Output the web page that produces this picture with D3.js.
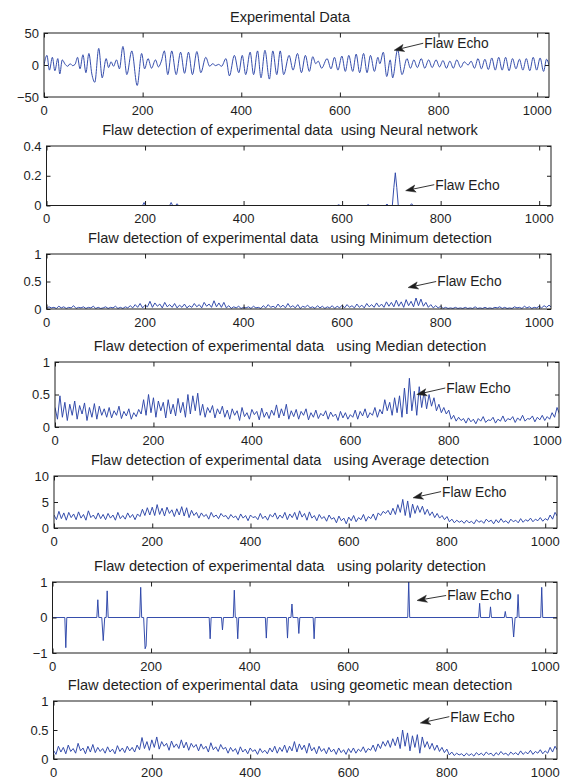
<!DOCTYPE html>
<html><head><meta charset="utf-8">
<script src="https://cdn.jsdelivr.net/npm/d3@7"></script>
<style>
body{margin:0;background:#fff}
svg text{font-family:"Liberation Sans",Arial,sans-serif;fill:#1e1e1e;font-size:13px;white-space:pre}
svg text.title{font-size:14.6px}
svg text.ann{font-size:13.8px}
</style></head><body>
<svg id="c" width="568" height="783" xml:space="preserve"></svg>
<script>
// ---------- data ----------
const xTicks = [0, 200, 400, 600, 800, 1000];
const titles = [
  "Experimental Data",
  "Flaw detection of experimental data  using Neural network",
  "Flaw detection of experimental data   using Minimum detection",
  "Flaw detection of experimental data   using Median detection",
  "Flaw detection of experimental data   using Average detection",
  "Flaw detection of experimental data   using polarity detection",
  "Flaw detection of experimental data   using geometic mean detection"
];
const annText = "Flaw Echo";

const expX = [0,6,11,17,22,28,32,37,43,48,53,58,63,68,73,79,85,91,97,103,111,118,126,131,136,141,147,153,160,168,178,189,198,204,211,218,226,232,238,244,251,259,268,277,285,293,301,310,318,328,336,342,348,354,360,369,376,386,395,402,409,418,425,433,440,448,457,464,472,479,486,497,505,514,522,530,538,545,551,556,563,574,582,589,596,604,611,618,626,633,640,648,655,662,670,677,681,688,695,702,707,717,726,736,743,750,757,765,772,780,787,795,802,809,816,823,830,837,845,852,860,866,873,880,887,894,901,908,915,922,929,936,943,950,957,964,971,978,985,992,999,1006,1013,1019,1024];
const expY = [0,15,-8,12,-9,10,-14,8,1,-2,2,-1,1,12,-6,16,-12,18,-14,-27,26,-20,10,-4,5,-2,8,-6,29,-15,22,-32,18,-6,10,-5,8,-3,6,22,-15,22,-15,20,-13,20,-15,21,-12,12,-2,2,-1,1,-2,10,-17,15,-12,15,-15,20,-15,22,-20,23,-22,22,-15,22,-15,15,-8,18,-12,15,-10,13,2,6,-5,10,-6,12,-8,14,-10,15,-10,17,-12,18,-12,15,-10,12,2,20,-18,8,-20,24,-15,10,-5,8,-4,10,-5,8,-4,8,-3,7,-5,6,-5,8,-4,5,0,6,-5,10,-6,9,-7,11,-8,12,-8,12,-9,10,-6,9,-8,10,-9,12,-8,11,-10,9,0];

// Neural network output
const nnX = [0,195,198,201,204,250,253,256,262,265,268,590,593,596,650,653,656,688,691,694,702,705,708,711,714,738,741,744,1024];
const nnY = [0,0,0.02,0,0,0,0.02,0,0,0.012,0,0,0.005,0,0,0.006,0,0,0.01,0,0,0.12,0.22,0.12,0,0,0.012,0,0];

// dense detector outputs, one value every 5 samples
const minVals = [0.01,0.04,0.02,0.03,0.01,0.05,0.02,0.04,0.01,0.03,0.02,0.06,0.01,0.03,0.02,0.04,0.01,0.03,0.02,0.05,0.01,
0.03,0.01,0.02,0.04,0.01,0.03,0.02,0.05,0.01,0.03,0.01,0.04,0.02,0.06,
0.02,0.08,0.03,0.10,0.02,0.07,
0.04,0.14,0.03,0.11,0.05,0.09,0.02,0.12,0.04,0.08,0.03,0.10,
0.02,0.07,0.03,0.09,0.02,0.06,
0.03,0.10,0.04,0.08,0.02,0.12,0.05,0.09,0.03,0.15,0.04,0.11,
0.03,0.12,0.02,0.06,0.01,0.04,0.02,0.05,0.01,0.03,0.02,0.04,0.01,0.05,0.02,0.03,0.01,0.06,0.02,0.08,0.03,0.05,0.02,0.09,0.03,0.07,
0.02,0.10,0.03,0.06,0.02,0.08,0.01,0.05,0.03,0.07,0.02,0.04,0.01,0.06,0.02,0.05,0.01,0.04,0.02,0.06,0.01,0.05,0.02,0.07,
0.02,0.08,0.03,0.06,0.02,0.09,0.03,0.07,0.02,0.10,0.04,0.08,
0.03,0.11,0.04,0.09,0.03,0.13,0.05,0.12,
0.04,0.16,0.05,0.13,0.03,0.17,0.06,0.14,
0.04,0.20,0.06,0.18,0.05,0.12,
0.03,0.08,0.02,0.06,0.02,0.05,
0.01,0.03,0.01,0.02,0.01,0.03,
0.01,0.02,0.01,0.03,0.01,0.02,0.01,0.04,0.01,0.02,0.01,0.03,0.01,0.02,0.01,0.03,0.02,0.04,0.01,0.03,0.01,0.02,0.01,0.04,0.02,0.03,0.01,0.05,0.02,0.04,0.01,0.03,0.02,0.05,
0.02,0.06,0.03,0.07,0.03];

const medVals = [0.30,0.12,0.48,0.15,0.38,0.10,0.35,0.18,0.40,0.12,0.33,0.20,0.37,0.10,0.30,0.15,0.36,0.12,0.32,0.18,0.28,
0.15,0.30,0.14,0.25,0.18,0.32,0.13,0.24,0.17,0.28,0.12,0.22,0.16,0.27,
0.20,0.42,0.18,0.50,0.22,0.45,
0.15,0.40,0.25,0.38,0.14,0.42,0.20,0.35,0.17,0.44,0.22,0.38,
0.15,0.50,0.20,0.48,0.25,0.52,
0.18,0.35,0.15,0.30,0.22,0.33,0.14,0.28,0.20,0.32,0.15,0.26,
0.12,0.28,0.18,0.25,0.10,0.30,0.16,0.22,0.12,0.27,0.19,0.24,0.11,0.29,0.15,0.23,0.13,0.26,0.18,0.34,0.14,0.28,0.17,0.35,0.12,0.25,
0.16,0.27,0.12,0.24,0.18,0.28,0.11,0.22,0.15,0.26,0.13,0.21,0.17,0.25,0.12,0.23,0.16,0.20,0.10,0.24,0.14,0.22,0.12,0.19,
0.15,0.26,0.12,0.24,0.17,0.28,0.14,0.22,0.18,0.30,0.15,0.27,
0.20,0.42,0.25,0.38,0.18,0.45,0.22,0.48,
0.15,0.60,0.20,0.75,0.25,0.55,0.18,0.62,
0.30,0.55,0.28,0.50,0.32,0.45,
0.25,0.35,0.22,0.30,0.20,0.26,
0.12,0.18,0.09,0.15,0.10,0.13,
0.06,0.14,0.08,0.12,0.05,0.13,0.09,0.16,0.07,0.11,0.10,0.15,0.06,0.12,0.09,0.17,0.08,0.13,0.11,0.16,0.07,0.14,0.10,0.18,0.09,0.13,0.12,0.17,0.08,0.15,0.11,0.18,0.10,0.16,
0.12,0.22,0.15,0.30,0.20];

const avgVals = [2.5,1.6,3.2,1.8,2.9,1.5,3.0,2.0,2.7,1.6,3.1,1.9,2.6,1.5,3.3,2.0,2.5,1.7,2.9,1.8,2.6,
1.6,2.8,1.9,2.5,1.5,3.0,1.8,2.4,1.7,2.9,2.0,2.6,1.6,2.7,
2.2,3.6,2.4,3.9,2.5,4.0,
2.4,4.5,2.6,3.8,2.3,4.0,2.8,3.5,2.2,3.7,2.5,4.1,
2.3,3.9,2.0,3.4,2.4,3.0,
1.9,2.9,2.2,2.6,1.7,3.0,2.1,2.5,1.8,2.8,2.2,2.4,
1.7,2.6,2.0,2.3,1.5,2.7,1.9,2.4,1.4,2.5,2.0,2.2,1.6,2.8,1.8,2.3,1.5,2.6,2.1,2.9,1.7,2.5,1.9,3.0,1.6,2.7,
2.0,3.0,1.6,3.3,2.1,2.8,1.5,3.1,1.9,2.4,1.4,2.6,1.8,2.2,1.3,2.5,1.7,2.0,1.0,2.3,1.4,1.9,0.8,2.1,
1.4,2.4,1.2,2.0,1.6,2.6,1.3,2.2,1.8,2.7,1.5,2.9,
2.4,3.2,2.8,3.4,2.5,3.8,2.6,4.5,
3.0,5.5,2.4,5.2,2.0,4.6,2.8,4.3,
3.0,4.2,2.6,3.6,2.4,3.1,
2.0,2.8,1.9,2.4,1.6,2.2,
1.2,1.7,1.0,1.5,1.1,1.4,
0.9,1.5,1.0,1.3,0.8,1.6,1.1,1.4,0.9,1.7,1.2,1.5,0.8,1.6,1.0,1.8,1.1,1.4,0.9,1.7,1.2,1.5,1.0,1.8,1.1,1.6,1.3,1.9,1.2,1.7,1.4,2.0,1.3,1.8,
1.5,2.5,1.7,3.0,2.2];

const geoVals = [0.15,0.08,0.22,0.12,0.20,0.09,0.24,0.13,0.18,0.10,0.27,0.14,0.19,0.09,0.22,0.12,0.25,0.11,0.20,0.13,0.18,
0.10,0.21,0.12,0.17,0.09,0.23,0.13,0.19,0.11,0.22,0.14,0.20,0.12,0.24,
0.16,0.37,0.18,0.30,0.15,0.33,
0.20,0.38,0.17,0.30,0.22,0.27,0.15,0.31,0.20,0.26,0.18,0.33,
0.19,0.29,0.15,0.27,0.20,0.25,
0.14,0.26,0.17,0.22,0.12,0.28,0.16,0.21,0.13,0.25,0.17,0.20,
0.10,0.20,0.13,0.18,0.08,0.21,0.12,0.17,0.09,0.19,0.13,0.16,0.08,0.18,0.11,0.15,0.09,0.19,0.12,0.22,0.10,0.20,0.13,0.24,0.11,0.22,
0.14,0.30,0.12,0.26,0.16,0.24,0.10,0.27,0.14,0.20,0.09,0.22,0.13,0.18,0.09,0.20,0.12,0.17,0.08,0.19,0.11,0.16,0.08,0.18,
0.11,0.19,0.10,0.17,0.13,0.21,0.11,0.18,0.15,0.24,0.13,0.26,
0.18,0.30,0.22,0.32,0.20,0.35,0.23,0.38,
0.18,0.50,0.22,0.45,0.14,0.40,0.20,0.42,
0.10,0.38,0.20,0.30,0.17,0.27,
0.15,0.24,0.13,0.20,0.11,0.17,
0.07,0.12,0.06,0.10,0.07,0.09,
0.05,0.10,0.06,0.09,0.05,0.11,0.07,0.10,0.06,0.12,0.08,0.10,0.05,0.11,0.07,0.13,0.08,0.10,0.06,0.12,0.08,0.11,0.07,0.14,0.08,0.12,0.09,0.15,0.08,0.13,0.10,0.16,0.09,0.14,
0.10,0.20,0.12,0.22,0.15];

// polarity detection spikes
const polX = [0,25,27,29,90,92,94,100,103,106,109,111,113,177,179,181,185,188,190,192,318,320,322,343,345,347,367,369,371,374,376,378,432,434,436,475,477,479,484,486,488,498,500,502,529,531,533,721,723,725,865,867,869,887,889,891,917,919,921,933,936,939,943,945,947,991,993,995,1024];
const polY = [0,0,-0.85,0,0,0.5,0,0,-0.65,0,0,0.75,0,0,0.85,0,0,-0.88,-0.8,0,0,-0.6,0,0,-0.35,0,0,0.77,0,0,-0.6,0,0,-0.58,0,0,-0.58,0,0,0.38,0,0,-0.45,0,0,-0.6,0,0,1.0,0,0,0.4,0,0,0.3,0,0,0.17,0,0,-0.55,0,0,0.65,0,0,0.85,0,0];

// y-axis ticks per panel
const yTicks = [[-50,0,50],[0,0.2,0.4],[0,0.5,1],[0,0.5,1],[0,5,10],[-1,0,1],[0,0.5,1]];
const yDomains = [[-50,50],[0,0.4],[0,1],[0,1],[0,10],[-1,1],[0,1]];
// annotation: arrow tip (x,y) and text start (x,y) in data units
const annTip = [[710,23],[729,0.1],[734,0.39],[735,0.5],[731,5.8],[740,0.48],[746,0.62]];
const annTxt = [[769,34],[787,0.14],[791,0.5],[793,0.6],[788,7.0],[799,0.62],[805,0.73]];

// ---------- layout ----------
const boxes = [
  {l:44,  r:549, t:33,  b:97},
  {l:46.5,r:551, t:146, b:205.5},
  {l:46.5,r:551, t:254, b:309},
  {l:55,  r:559, t:362, b:427},
  {l:54,  r:557, t:476, b:528},
  {l:52.5,r:557, t:582, b:653},
  {l:53.5,r:557, t:701, b:759}
];
const denseIdx = d3.range(minVals.length).map(i => i * 5);
const seriesList = [
  {x: expX, y: expY, curve: d3.curveMonotoneX},
  {x: nnX, y: nnY, curve: d3.curveLinear},
  {x: denseIdx, y: minVals, curve: d3.curveLinear},
  {x: denseIdx, y: medVals, curve: d3.curveLinear},
  {x: denseIdx, y: avgVals, curve: d3.curveLinear},
  {x: polX, y: polY, curve: d3.curveLinear},
  {x: denseIdx, y: geoVals, curve: d3.curveLinear}
];
const lineColor = "#2b45a8";
const axisColor = "#1e1e1e";
const svg = d3.select("#c");
const fmt = v => (v < 0 ? "\u2212" + Math.abs(v) : String(v));

boxes.forEach((bx, k) => {
  const x = d3.scaleLinear().domain([0, 1024]).range([bx.l, bx.r]);
  const y = d3.scaleLinear().domain(yDomains[k]).range([bx.b, bx.t]);
  const g = svg.append("g");
  const cid = "clip" + k;
  g.append("clipPath").attr("id", cid).append("rect")
    .attr("x", bx.l).attr("y", bx.t - 1).attr("width", bx.r - bx.l).attr("height", bx.b - bx.t + 2);

  const s = seriesList[k];
  const pts = s.x.map((xv, i) => [xv, s.y[i]]);
  g.append("path").attr("clip-path", `url(#${cid})`)
    .attr("d", d3.line().x(d => x(d[0])).y(d => y(d[1])).curve(s.curve)(pts))
    .attr("fill", "none").attr("stroke", lineColor).attr("stroke-width", 0.95)
    .attr("stroke-linejoin", "round");

  // box
  g.append("rect").attr("x", bx.l).attr("y", bx.t).attr("width", bx.r - bx.l).attr("height", bx.b - bx.t)
    .attr("fill", "none").attr("stroke", axisColor).attr("stroke-width", 1);

  // x ticks (inside, top and bottom) and labels
  const xa = d3.axisBottom(x).tickValues(xTicks).tickSizeInner(-4.5).tickSizeOuter(0).tickPadding(0).tickFormat("");
  const xg = g.append("g").attr("transform", `translate(0,${bx.b})`).call(xa);
  xg.select(".domain").remove();
  xg.selectAll("line").attr("stroke", axisColor);
  const xt = d3.axisTop(x).tickValues(xTicks).tickSizeInner(-4.5).tickSizeOuter(0).tickFormat("");
  const xtg = g.append("g").attr("transform", `translate(0,${bx.t})`).call(xt);
  xtg.select(".domain").remove();
  xtg.selectAll("line").attr("stroke", axisColor);
  g.selectAll(null).data(xTicks).enter().append("text")
    .attr("x", d => x(d)).attr("y", bx.b + 17.5).attr("text-anchor", "middle").text(d => d);

  // y ticks
  const ya = d3.axisLeft(y).tickValues(yTicks[k]).tickSizeInner(-4).tickSizeOuter(0).tickFormat("");
  const yg = g.append("g").attr("transform", `translate(${bx.l},0)`).call(ya);
  yg.select(".domain").remove();
  yg.selectAll("line").attr("stroke", axisColor);
  const yr = d3.axisRight(y).tickValues(yTicks[k]).tickSizeInner(-4).tickSizeOuter(0).tickFormat("");
  const yrg = g.append("g").attr("transform", `translate(${bx.r},0)`).call(yr);
  yrg.select(".domain").remove();
  yrg.selectAll("line").attr("stroke", axisColor);
  g.selectAll(null).data(yTicks[k]).enter().append("text")
    .attr("x", bx.l - 5).attr("y", d => y(d)).attr("dy", "0.36em").attr("text-anchor", "end").text(fmt);

  // title
  g.append("text").attr("class", "title").attr("x", 290).attr("y", bx.t - 11)
    .attr("text-anchor", "middle").text(titles[k]);

  // annotation arrow
  const x1 = x(annTxt[k][0]), y1 = y(annTxt[k][1]);
  const x2 = x(annTip[k][0]), y2 = y(annTip[k][1]);
  const dx = x2 - x1, dy = y2 - y1, L = Math.hypot(dx, dy), ux = dx / L, uy = dy / L;
  const hl = 10, hw = 3.6, px = -uy, py = ux;
  const bxp = x2 - ux * hl, byp = y2 - uy * hl;
  const nx = bxp + ux * 2.5, ny = byp + uy * 2.5;
  g.append("line").attr("x1", x1).attr("y1", y1).attr("x2", nx).attr("y2", ny)
    .attr("stroke", axisColor).attr("stroke-width", 0.9);
  g.append("path")
    .attr("d", `M${x2},${y2}L${bxp + px * hw},${byp + py * hw}L${nx},${ny}L${bxp - px * hw},${byp - py * hw}Z`)
    .attr("fill", axisColor).attr("stroke", axisColor).attr("stroke-width", 0.5);
  g.append("text").attr("class", "ann").attr("x", x1 + 1).attr("y", y1).attr("dy", "0.36em").text(annText);
});
</script>
</body></html>
